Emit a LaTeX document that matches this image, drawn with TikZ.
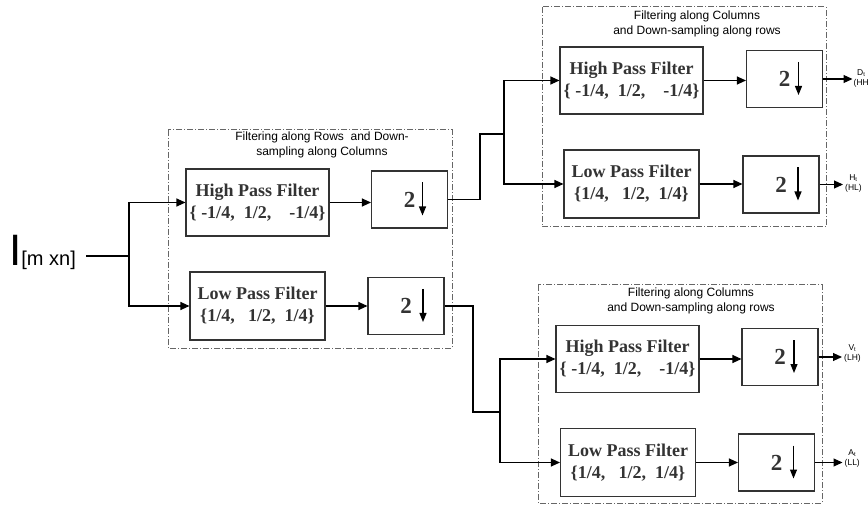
\documentclass[tikz,border=0pt]{standalone}
\usepackage{fontspec}
\setmainfont{Liberation Serif}
\setsansfont{Liberation Sans}
\usetikzlibrary{arrows.meta}

\begin{document}
\begin{tikzpicture}[
       x=1pt, y=-1pt,
       line_style/.style={draw, black, line width=1.1pt}, % 连线样式
       arrow_style/.style={line_style, -{Triangle[length=9pt, width=8pt]}}, % 带箭头的连线
       filter_style/.style={draw, black!80, line width=1.1pt, inner sep=0pt, align=center,
           font=\bfseries\fontsize{18}{22}\selectfont}, % 滤波器方框
       hpf_style/.style={filter_style, minimum width=143pt, minimum height=67pt},
       lpf_style/.style={filter_style, minimum width=135pt, minimum height=68pt},
       down_style/.style={draw, black!80, line width=1.1pt, inner sep=0pt,
           minimum width=76pt, minimum height=57pt, font=\bfseries\fontsize{23}{23}\selectfont}, % 下采样方框
       down_arrow/.style={draw, black, line width=1.1pt, -{Triangle[length=9pt, width=7pt]}},
       group_style/.style={draw, black!60, line width=1pt, dash pattern=on 6pt off 2pt on 1pt off 2pt}, % 点划线分组框
       title_style/.style={align=center, inner sep=0pt, font=\sffamily\fontsize{12}{15}\selectfont},
       out_style/.style={align=center, inner sep=0pt, anchor=west, font=\sffamily\fontsize{8.5}{10}\selectfont}
   ]
   \useasboundingbox (0,0) rectangle (868,505);

   % 1. 三个点划线分组框及其标题
   \draw[group_style] (168,130) rectangle (452,348);
   \draw[group_style] (542,7) rectangle (826,227);
   \draw[group_style] (538,285) rectangle (822,503);
   \node[title_style] (t1) at (322,145) {Filtering along Rows\ \ and Down-\\sampling along Columns};
   \node[title_style] (t2) at (697,24) {Filtering along Columns\\and Down-sampling along rows};
   \node[title_style] (t3) at (691,301) {Filtering along Columns\\and Down-sampling along rows};

   % 2. 输入图像
   \node[anchor=base west, inner sep=0pt, font=\sffamily] (img) at (9,266)
       {\fontsize{44}{44}\selectfont I\fontsize{20}{20}\selectfont[m xn]};

   % 3. 第一级:行方向滤波
   \node[hpf_style] (hp1) at (257.5,202.5) {High Pass Filter\\\{ -1/4,~ 1/2,~~~ -1/4\}};
   \node[lpf_style] (lp1) at (257.5,306) {Low Pass Filter\\\{1/4,~~ 1/2,~ 1/4\}};
   \node[down_style] (d1) at (409.5,199.5) {2};
   \node[down_style] (d2) at (406,306) {2};

   % 4. 第二级:列方向滤波(上、下两组)
   \node[hpf_style] (hp2) at (631.5,80.5) {High Pass Filter\\\{ -1/4,~ 1/2,~~~ -1/4\}};
   \node[lpf_style] (lp2) at (631.5,184) {Low Pass Filter\\\{1/4,~~ 1/2,~ 1/4\}};
   \node[down_style] (d3) at (784.5,79) {2};
   \node[down_style] (d4) at (781,184.5) {2};
   \node[hpf_style] (hp3) at (627.5,359) {High Pass Filter\\\{ -1/4,~ 1/2,~~~ -1/4\}};
   \node[lpf_style] (lp3) at (628,462.5) {Low Pass Filter\\\{1/4,~~ 1/2,~ 1/4\}};
   \node[down_style] (d5) at (780,357) {2};
   \node[down_style] (d6) at (776.5,462.5) {2};

   % 5. 下采样方框中的向下箭头
   \foreach \n/\dx in {d1/13, d2/17, d3/14, d4/17, d5/14, d6/17}
       \draw[down_arrow] ([xshift=\dx pt, yshift=17pt]\n.center) -- ++(0,33);

   % 6. 分支点
   \coordinate (s0) at (129,256);
   \coordinate (j1) at (480,134);
   \coordinate (s1) at (504,134);
   \coordinate (j2) at (473,412);
   \coordinate (s2) at (500,412);

   % 7. 连线
   \draw[line_style] (img.east |- s0) ++(10,0) -- (s0);
   \draw[arrow_style] (s0) |- (hp1);
   \draw[arrow_style] (s0) |- (lp1);
   \draw[arrow_style] (hp1) -- (hp1 -| d1.west);
   \draw[arrow_style] (lp1) -- (lp1 -| d2.west);
   \draw[line_style] (d1) -| (j1) -- (s1);
   \draw[line_style] (d2) -| (j2) -- (s2);
   \draw[arrow_style] (s1) |- (hp2);
   \draw[arrow_style] (s1) |- (lp2);
   \draw[arrow_style] (s2) |- (hp3);
   \draw[arrow_style] (s2) |- (lp3);
   \draw[arrow_style] (hp2) -- (hp2 -| d3.west);
   \draw[arrow_style] (lp2) -- (lp2 -| d4.west);
   \draw[arrow_style] (hp3) -- (hp3 -| d5.west);
   \draw[arrow_style] (lp3) -- (lp3 -| d6.west);

   % 8. 四个输出子带
   \draw[arrow_style] (d3) -- ++(68,0) coordinate (o1);
   \draw[arrow_style] (d4) -- ++(62,0) coordinate (o2);
   \draw[arrow_style] (d5) -- ++(62,0) coordinate (o3);
   \draw[arrow_style] (d6) -- ++(66,0) coordinate (o4);
   \node[out_style] (l1) at ([xshift=1pt, yshift=1pt]o1) {D\textsubscript{t}\\(HH};
   \node[out_style] (l2) at ([xshift=2pt, yshift=1pt]o2) {H\textsubscript{t}\\(HL)};
   \node[out_style] (l3) at ([xshift=2pt, yshift=4pt]o3) {V\textsubscript{t}\\(LH)};
   \node[out_style] (l4) at ([xshift=2pt, yshift=4pt]o4) {A\textsubscript{t}\\(LL)};

   \end{tikzpicture}
\end{document}
